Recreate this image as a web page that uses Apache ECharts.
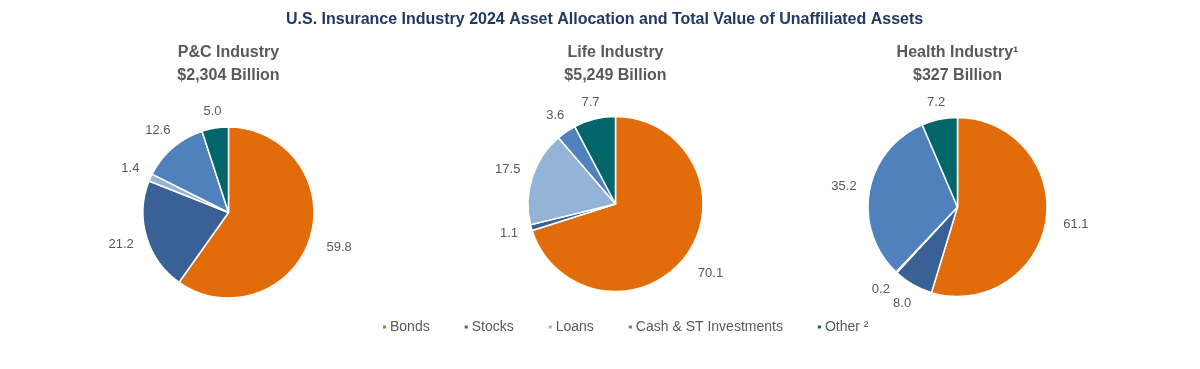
<!DOCTYPE html>
<html>
<head>
<meta charset="utf-8">
<script src="https://cdn.jsdelivr.net/npm/echarts@6/dist/echarts.min.js"></script>
<style>
html,body{margin:0;padding:0;background:#fff;}
#chart{width:1200px;height:369px;}
</style>
</head>
<body>
<div id="chart"></div>
<script>
// ---- data ----
const categories = ['Bonds', 'Stocks', 'Loans', 'Cash & ST Investments', 'Other'];
const pcValues = [59.8, 21.2, 1.4, 12.6, 5.0];
const lifeValues = [70.1, 1.1, 17.5, 3.6, 7.7];
const healthValues = [61.1, 8.0, 0.2, 35.2, 7.2];
const industryNames = ['P&C Industry', 'Life Industry', 'Health Industry\u00B9'];
const industryTotals = ['$2,304 Billion', '$5,249 Billion', '$327 Billion'];
const mainTitle = 'U.S. Insurance Industry 2024 Asset Allocation and Total Value of Unaffiliated Assets';

// ---- style ----
const colors = ['#E36C0A', '#3A6195', '#95B3D7', '#4F81BD', '#00666A'];
const FONT = "'Liberation Sans', Arial, sans-serif";
const pieCenters = [[228.5, 212.5], [615.5, 204], [957.5, 207]];
const pieRadii = [85.5, 87.5, 89.5];
const valueSets = [pcValues, lifeValues, healthValues];

function labelLayoutFn(p) {
  const pts = p.labelLinePoints;
  if (!pts || pts.length < 2) return {};
  const x0 = pts[0][0], y0 = pts[0][1];
  let ux = pts[1][0] - x0, uy = pts[1][1] - y0;
  const L = Math.hypot(ux, uy) || 1;
  ux /= L; uy /= L;
  const w = p.labelRect.width;
  const d = 13 + Math.abs(ux) * w / 2 + (uy > 0 ? uy * 5 : -uy * 2) + (ux > 0 ? 4 : 0);
  return { x: x0 + ux * d, y: y0 + uy * d, align: 'center', verticalAlign: 'middle' };
}

const titles = [{
  text: mainTitle,
  left: 286, top: 12, padding: 0,
  textStyle: { fontFamily: FONT, fontSize: 16, fontWeight: 'bold', color: '#1F3864' }
}];
industryNames.forEach((n, i) => {
  titles.push({
    text: n + '\n' + industryTotals[i],
    left: pieCenters[i][0], top: 41.5, padding: 0, textAlign: 'center',
    textStyle: { fontFamily: FONT, fontSize: 16, fontWeight: 'bold', color: '#595959', lineHeight: 23 }
  });
});

const series = valueSets.map((vals, i) => ({
  type: 'pie',
  center: pieCenters[i],
  radius: pieRadii[i],
  startAngle: 90,
  clockwise: true,
  avoidLabelOverlap: false,
  animation: false,
  silent: true,
  itemStyle: { borderColor: '#ffffff', borderWidth: 1.5 },
  label: {
    show: true, position: 'outside',
    formatter: (q) => q.value.toFixed(1),
    fontFamily: FONT, fontSize: 13, color: '#595959'
  },
  labelLine: { show: true, length: 10, length2: 0, lineStyle: { opacity: 0 } },
  labelLayout: labelLayoutFn,
  data: categories.map((c, k) => ({ name: c, value: vals[k], itemStyle: { color: colors[k] } }))
}));

const chart = echarts.init(document.getElementById('chart'), null, { renderer: 'canvas' });
chart.setOption({
  backgroundColor: '#ffffff',
  animation: false,
  color: colors,
  title: titles,
  legend: {
    data: categories,
    left: 381, top: 320, padding: 0,
    icon: 'rect', itemWidth: 5, itemHeight: 5, itemGap: 33,
    selectedMode: false,
    formatter: (n) => n === 'Other' ? 'Other \u00B2' : n,
    textStyle: { fontFamily: FONT, fontSize: 14, color: '#595959', padding: [0, 0, 0, -2] }
  },
  series: series
});
</script>
</body>
</html>
